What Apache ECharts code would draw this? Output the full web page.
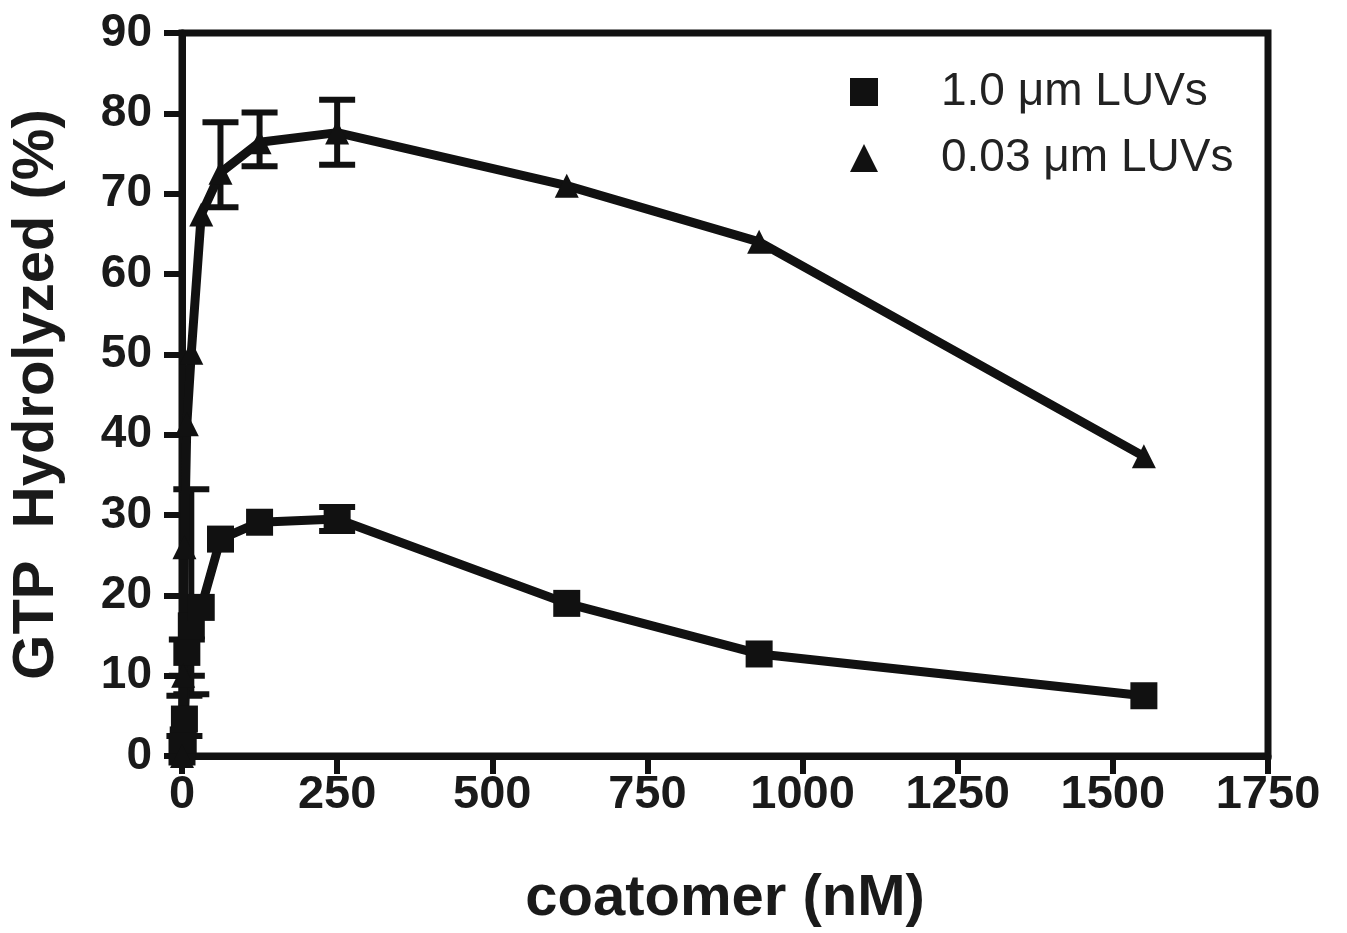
<!DOCTYPE html>
<html>
<head>
<meta charset="utf-8">
<script src="https://cdn.jsdelivr.net/npm/echarts@6/dist/echarts.min.js"></script>
<style>
  html, body { margin: 0; padding: 0; background: #fff; }
  #chart { width: 1347px; height: 933px; }
</style>
</head>
<body>
<div id="chart"></div>
<script>
// coatomer concentration (nM)
var squareX = [0, 1.95, 3.9, 7.8, 15, 31, 62, 125, 250, 620, 930, 1550];
var squareY = [0.5, 2, 4.6, 12.9, 16.2, 18.5, 27.0, 29.1, 29.5, 19.0, 12.7, 7.5];
var triX = [0, 1.95, 3.9, 7.8, 15, 31, 62, 125, 250, 620, 930, 1550];
var triY = [0, 10, 26, 41.3, 50.2, 67.4, 72.6, 76.4, 77.6, 71.0, 64.0, 37.3];
// error bars: [x, low, high]
var squareErr = [[3.9, 2.5, 7.5], [7.8, 10, 14.5], [15, 7.7, 33.2], [250, 28, 31]];
var triErr = [[62, 68.3, 78.9], [125, 73.4, 80.1], [250, 73.6, 81.7]];
var xTicks = [0, 250, 500, 750, 1000, 1250, 1500, 1750];
var yTicks = [0, 10, 20, 30, 40, 50, 60, 70, 80, 90];

var pair = function(xs, ys){
    return xs.map(function(x, i){ return [x, ys[i]]; });
};

//error bar drawn as a vertical line with two caps
var errSeries = function(data){
    return {
        type: 'custom',
        data: data,
        z: 3,
        silent: true,
        renderItem: function(params, api){
            var x = api.value(0);
            var lo = api.coord([x, api.value(1)]);
            var hi = api.coord([x, api.value(2)]);
            var w = 18;
            var st = { stroke: '#111', lineWidth: 6 };
            return {
                type: 'group',
                children: [
                    { type: 'line', shape: { x1: lo[0], y1: lo[1], x2: hi[0], y2: hi[1] }, style: st },
                    { type: 'line', shape: { x1: lo[0] - w, y1: lo[1], x2: lo[0] + w, y2: lo[1] }, style: st },
                    { type: 'line', shape: { x1: hi[0] - w, y1: hi[1], x2: hi[0] + w, y2: hi[1] }, style: st }
                ]
            };
        }
    };
};

var font = '"Liberation Sans", Arial, sans-serif';
var chart = echarts.init(document.getElementById('chart'));
var option = {
    animation: false,
    backgroundColor: '#fff',
    grid: {
        left: 182, right: 79, top: 33, bottom: 176,
        show: true, borderColor: '#111', borderWidth: 7
    },
    legend: {
        orient: 'vertical',
        left: 845, top: 64,
        itemWidth: 28, itemHeight: 28, itemGap: 20,
        textStyle: { fontFamily: font, fontSize: 46, color: '#222', padding: [0, 0, 0, 58] },
        data: [
            { name: '1.0 \u03bcm LUVs', icon: 'rect' },
            { name: '0.03 \u03bcm LUVs', icon: 'triangle' }
        ]
    },
    xAxis: {
        type: 'value', min: 0, max: 1750, interval: 250,
        name: 'coatomer (nM)', nameLocation: 'middle', nameGap: 114,
        nameTextStyle: { fontFamily: font, fontSize: 58, fontWeight: 'bold', color: '#1a1a1a' },
        axisLine: { lineStyle: { color: '#111', width: 7 } },
        axisTick: { length: 18, lineStyle: { color: '#111', width: 6 } },
        axisLabel: { fontFamily: font, fontSize: 47, fontWeight: 'bold', color: '#1a1a1a', margin: 16,
            formatter: function(v){ return xTicks.indexOf(v) >= 0 ? v : ''; } },
        splitLine: { show: false }
    },
    yAxis: {
        type: 'value', min: 0, max: 90, interval: 10,
        name: 'GTP  Hydrolyzed (%)', nameLocation: 'middle', nameGap: 116,
        nameTextStyle: { fontFamily: font, fontSize: 58, fontWeight: 'bold', color: '#1a1a1a' },
        axisLine: { lineStyle: { color: '#111', width: 7 } },
        axisTick: { length: 18, lineStyle: { color: '#111', width: 6 } },
        axisLabel: { fontFamily: font, fontSize: 46, fontWeight: 'bold', color: '#1a1a1a', margin: 30,
            formatter: function(v){ return yTicks.indexOf(v) >= 0 ? v : ''; } },
        splitLine: { show: false }
    },
    series: [
        {
            name: '1.0 \u03bcm LUVs', type: 'line', data: pair(squareX, squareY),
            symbol: 'rect', symbolSize: 27, z: 4,
            lineStyle: { color: '#111', width: 9 },
            itemStyle: { color: '#111' }
        },
        {
            name: '0.03 \u03bcm LUVs', type: 'line', data: pair(triX, triY),
            symbol: 'triangle', symbolSize: 24, z: 4,
            lineStyle: { color: '#111', width: 9 },
            itemStyle: { color: '#111' }
        },
        errSeries(squareErr),
        errSeries(triErr)
    ]
};
chart.setOption(option);
</script>
</body>
</html>
